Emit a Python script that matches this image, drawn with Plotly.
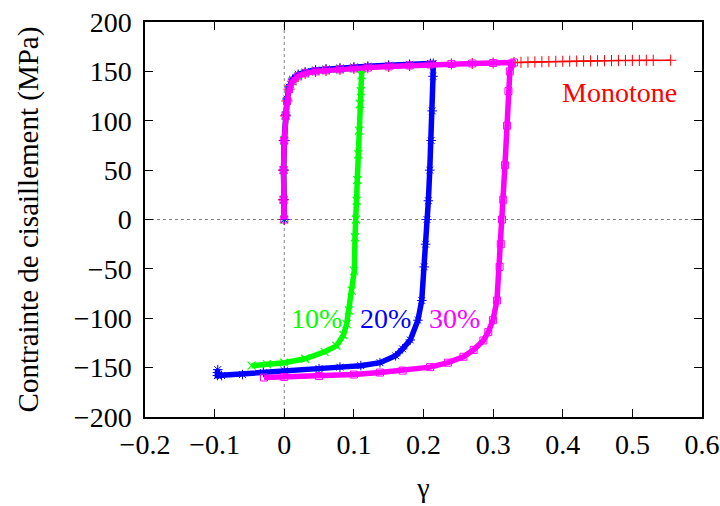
import plotly.graph_objects as go

# ---- data ----
mono_gamma = [0.0, -0.001, -0.001, 0.0, 0.002, 0.004, 0.007, 0.012, 0.02, 0.03, 0.045, 0.06, 0.08, 0.10,
              0.12, 0.15, 0.18, 0.21, 0.24, 0.27, 0.30, 0.33, 0.34, 0.35, 0.36, 0.37, 0.38, 0.39, 0.40,
              0.41, 0.42, 0.43, 0.44, 0.45, 0.46, 0.47, 0.48, 0.49, 0.50, 0.51, 0.52, 0.53, 0.555]
mono_stress = [0, 20, 50, 80, 105, 120, 132, 140, 145, 148, 150, 151, 152, 153,
               153.8, 155, 156, 157, 157.5, 158, 158.5, 159, 159.2, 159.4, 159.6, 159.8, 160, 160.1, 160.2,
               160.3, 160.4, 160.5, 160.6, 160.7, 160.8, 160.9, 161, 161, 161.1, 161.1, 161.2, 161.2, 161.3]

g10_gamma = [0.0, -0.001, -0.001, 0.0, 0.002, 0.004, 0.007, 0.012, 0.02, 0.03, 0.045, 0.06, 0.08, 0.10, 0.111,
             0.111, 0.110, 0.109, 0.1075, 0.1064, 0.105, 0.104, 0.103, 0.1016, 0.1006, 0.0968, 0.093, 0.0896,
             0.085, 0.075, 0.058, 0.03, 0.0, -0.025, -0.047]
g10_stress = [0, 20, 50, 80, 105, 120, 132, 140, 145, 148, 150, 151, 152, 153, 153.5,
              146, 130, 117, 90, 66, 40, 19, 0, -18, -52, -72, -92, -106,
              -117, -128, -134, -141, -145, -146.5, -148]

g20_gamma = [0.0, -0.001, -0.001, 0.0, 0.002, 0.004, 0.007, 0.012, 0.02, 0.03, 0.045, 0.06, 0.08, 0.10,
             0.12, 0.15, 0.18, 0.21, 0.214,
             0.2137, 0.2125, 0.211, 0.209, 0.207, 0.205, 0.203, 0.201, 0.1975, 0.192, 0.181, 0.17, 0.16,
             0.1375, 0.11, 0.08, 0.05, 0.0, -0.03, -0.06, -0.09, -0.096, -0.096, -0.0955]
g20_stress = [0, 20, 50, 80, 106, 122, 134, 142, 147, 149.5, 151.5, 152.5, 153.5, 154.5,
              155.3, 156.3, 157.2, 158, 158.2,
              145, 110, 80, 50, 19, 0, -25, -48, -82, -102, -122, -131, -138,
              -145, -148, -149.5, -151, -153, -155, -157, -158, -158, -155, -152]

g30_gamma = [0.0, -0.001, -0.001, 0.0, 0.002, 0.004, 0.007, 0.012, 0.02, 0.03, 0.045, 0.06, 0.08, 0.10,
             0.12, 0.15, 0.18, 0.21, 0.24, 0.27, 0.30, 0.33,
             0.327, 0.324, 0.322, 0.320, 0.317, 0.3145, 0.3127, 0.311, 0.3093, 0.3055, 0.2997, 0.293, 0.286,
             0.272, 0.2574, 0.235, 0.2095, 0.17, 0.1375, 0.10, 0.05, 0.0, -0.029]
g30_stress = [0, 20, 50, 80, 105, 120, 132, 140, 145, 148, 150, 151, 152, 153,
              153.8, 155, 156, 157, 157.5, 158, 158.5, 159,
              158, 150, 130, 95, 55, 20, 0, -25, -48, -82, -102, -114, -122.5,
              -132, -139, -145, -149.5, -153, -155, -157, -158.5, -159.5, -160]

labels = ["Monotone", "10%", "20%", "30%"]
label_gamma = [0.4815, 0.0465, 0.1447, 0.244]
label_stress = [129, -100, -100, -100]

x_ticks = [-0.2, -0.1, 0, 0.1, 0.2, 0.3, 0.4, 0.5, 0.6]
y_ticks = [-200, -150, -100, -50, 0, 50, 100, 150, 200]

RED, GREEN, BLUE, MAG = "#ff0000", "#00ff00", "#0000ff", "#ff00ff"
FONT = "Liberation Serif, Times New Roman, serif"

fig = go.Figure()
fig.add_trace(go.Scatter(x=mono_gamma, y=mono_stress, mode="lines+markers",
                         line=dict(color=RED, width=1.5),
                         marker=dict(symbol="cross-thin", size=8, line=dict(color=RED, width=1))))
fig.add_trace(go.Scatter(x=g10_gamma, y=g10_stress, mode="lines+markers",
                         line=dict(color=GREEN, width=5.5),
                         marker=dict(symbol="x-thin", size=8, line=dict(color=GREEN, width=1.2))))
fig.add_trace(go.Scatter(x=g20_gamma, y=g20_stress, mode="lines+markers",
                         line=dict(color=BLUE, width=5.5),
                         marker=dict(symbol="asterisk", size=8, line=dict(color=BLUE, width=1))))
fig.add_trace(go.Scatter(x=g30_gamma, y=g30_stress, mode="lines+markers",
                         line=dict(color=MAG, width=5.5),
                         marker=dict(symbol="square-open", size=7, color=MAG, line=dict(color=MAG, width=1))))

for txt, gx, sy, col in zip(labels, label_gamma, label_stress, [RED, GREEN, BLUE, MAG]):
    fig.add_annotation(x=gx, y=sy, text=txt, showarrow=False, xanchor="center", yanchor="middle",
                       font=dict(family=FONT, size=28, color=col))

# dotted zero lines
fig.add_shape(type="line", x0=0, x1=0, y0=-200, y1=200, xref="x", yref="y",
              line=dict(color="#808080", width=1, dash="dot"), layer="below")
fig.add_shape(type="line", x0=-0.2, x1=0.6, y0=0, y1=0, xref="x", yref="y",
              line=dict(color="#808080", width=1, dash="dot"), layer="below")

axis_common = dict(showgrid=False, zeroline=False, showline=True, linecolor="black", linewidth=1.5,
                   mirror="ticks", ticks="inside", ticklen=8, tickwidth=1, tickcolor="black",
                   automargin=False, ticklabeloverflow="allow",
                   tickfont=dict(family=FONT, size=28, color="black"))
fig.update_xaxes(range=[-0.2, 0.6], tickvals=x_ticks, ticklabelstandoff=2,
                 title=dict(text="γ", font=dict(family=FONT, size=28, color="black"), standoff=18),
                 **axis_common)
fig.update_yaxes(range=[-200, 200], tickvals=y_ticks, ticklabelstandoff=6,
                 title=dict(text="Contrainte de cisaillement (MPa)",
                            font=dict(family=FONT, size=29, color="black"), standoff=27),
                 **axis_common)

fig.update_layout(width=720, height=506, showlegend=False, plot_bgcolor="white", paper_bgcolor="white",
                  margin=dict(l=145, r=18, t=22, b=89, autoexpand=False))

# remove the default page body margin so the 720x506 figure fills the window exactly
fig.write_html("out.html", config={"displayModeBar": False},
               post_script="document.body.style.margin='0';document.body.style.overflow='hidden';")
